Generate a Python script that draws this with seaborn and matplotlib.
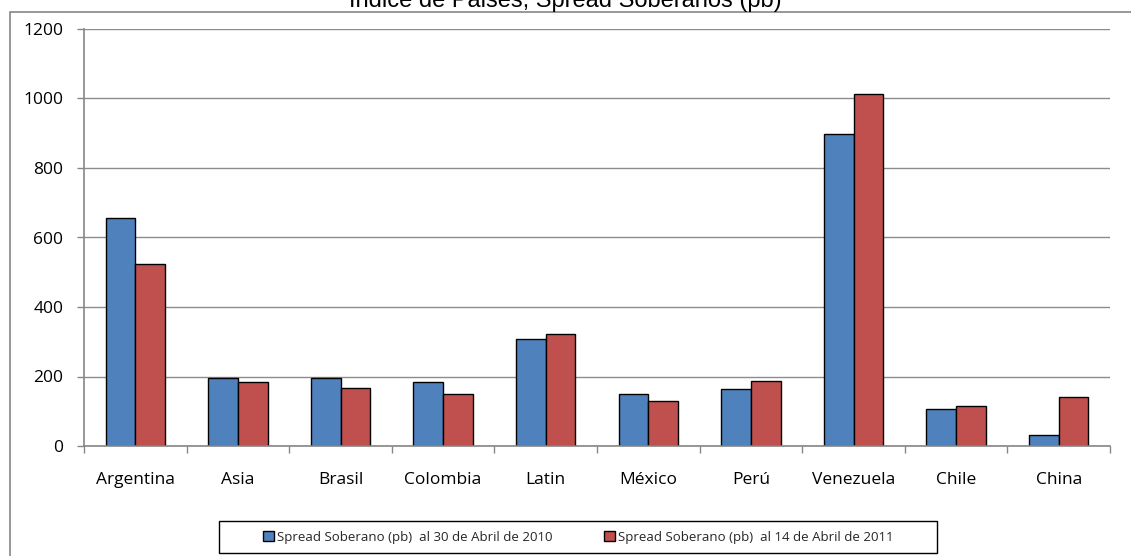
import matplotlib
matplotlib.use("Agg")
import matplotlib.pyplot as plt
import seaborn as sns
import pandas as pd
from matplotlib.patches import Patch, Rectangle

paises = ["Argentina", "Asia", "Brasil", "Colombia", "Latin", "México", "Perú", "Venezuela", "Chile", "China"]
spread_2010 = [657, 195, 195, 185, 308, 151, 165, 897, 107, 33]
spread_2011 = [525, 185, 168, 150, 322, 129, 187, 1012, 115, 142]
serie_labels = ["Spread Soberano (pb)  al 30 de Abril de 2010", "Spread Soberano (pb)  al 14 de Abril de 2011"]
y_ticks = [0, 200, 400, 600, 800, 1000, 1200]
titulo = "Indice de Paises, Spread Soberanos (pb)"

colors = ["#4F81BD", "#C0504D"]

df = pd.DataFrame({
    "pais": paises * 2,
    "valor": spread_2010 + spread_2011,
    "serie": [serie_labels[0]] * len(paises) + [serie_labels[1]] * len(paises),
})

sns.set_theme(style="white")
plt.rcParams["font.family"] = ["Open Sans", "DejaVu Sans"]

W, H = 1131, 556
fig = plt.figure(figsize=(W / 100, H / 100), dpi=100)
ax = fig.add_axes([84 / W, 1 - 446 / H, (1110 - 84) / W, (446 - 29) / H])

sns.barplot(data=df, x="pais", y="valor", hue="serie", palette=colors, saturation=1,
            width=0.58, edgecolor="black", linewidth=1.0, ax=ax,
            order=paises, hue_order=serie_labels, legend=False)

ax.set_xlim(-0.5, len(paises) - 0.5)
ax.set_ylim(0, 1200)
ax.set_yticks(y_ticks)
ax.set_yticklabels([str(v) for v in y_ticks])
ax.yaxis.grid(True, color="#8C8C8C", linewidth=1.0)
ax.set_axisbelow(True)
ax.set_xlabel("")
ax.set_ylabel("")

for s in ["top", "right"]:
    ax.spines[s].set_visible(False)
for s in ["left", "bottom"]:
    ax.spines[s].set_color("#868686")
    ax.spines[s].set_linewidth(1.2)

ax.tick_params(axis="y", which="major", left=True, length=5, width=1, color="#868686",
               pad=10, labelsize=12.5, labelcolor="black")
ax.tick_params(axis="x", which="major", bottom=False, length=0, pad=19,
               labelsize=12.5, labelcolor="black")
ax.set_xticks([i + 0.5 for i in range(-1, len(paises))], minor=True)
ax.tick_params(axis="x", which="minor", bottom=True, length=5, width=1, color="#868686")

handles = [Patch(facecolor=colors[0], edgecolor="black", linewidth=1.0, label=serie_labels[0]),
           Patch(facecolor=colors[1], edgecolor="black", linewidth=1.0, label=serie_labels[1])]
leg = fig.legend(handles=handles, loc="center", ncol=2,
                 bbox_to_anchor=(578 / W, 1 - 537 / H), frameon=False,
                 fontsize=9.5, handlelength=0.85, handleheight=0.85, handletextpad=0.2,
                 columnspacing=3.9, borderpad=0.55, borderaxespad=0)

# legend frame (wider than the entries, as in the reference)
fig.add_artist(Rectangle((219 / W, 1 - 553 / H), (937 - 219) / W, 32 / H,
                         transform=fig.transFigure, fill=False,
                         edgecolor="black", linewidth=1.0))

fig.text(0.5, 1 - 7 / H, titulo, ha="center", va="baseline", fontsize=17,
         family=["Liberation Sans", "DejaVu Sans"], color="black")

fig.add_artist(Rectangle((10 / W, -0.1), 1.2, 1 - 12 / H + 0.1, transform=fig.transFigure,
                         fill=False, edgecolor="#868686", linewidth=1.2))

fig.savefig("out.png", dpi=100)
